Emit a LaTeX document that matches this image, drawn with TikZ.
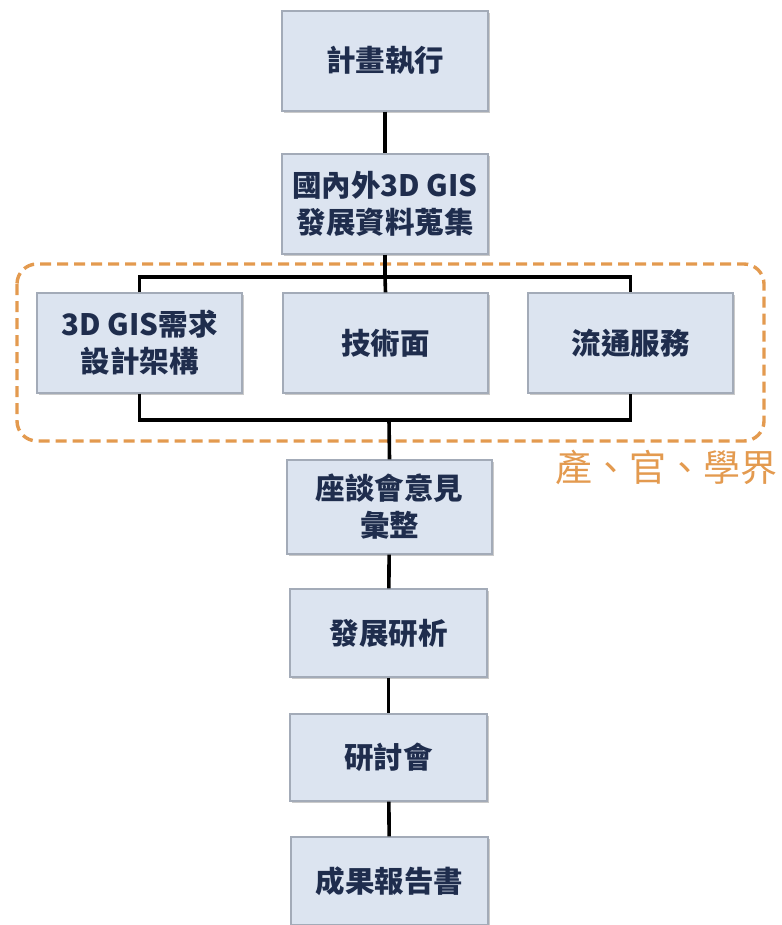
\documentclass[tikz,border=0pt]{standalone}
\usepackage{fontspec}
\newfontfamily\cjk{Noto Sans CJK TC}
\usetikzlibrary{shadows}
\definecolor{boxfill}{HTML}{DCE4F0}
\definecolor{boxline}{HTML}{A3ABB8}
\definecolor{boxtext}{HTML}{1F2D4D}
\definecolor{orng}{HTML}{E39A4F}
\tikzset{
  stepbox/.style={draw=boxline, line width=1.2pt, fill=boxfill, align=center,
    text=boxtext, font=\cjk\bfseries\fontsize{29.5}{37}\selectfont, inner sep=0pt,
    drop shadow={opacity=0.35, shadow xshift=2pt, shadow yshift=-2pt, fill=black!60}},
  conn/.style={line width=3.6pt, draw=black}
}
\begin{document}
\begin{tikzpicture}[x=1pt,y=-1pt]
\useasboundingbox (0,0) rectangle (781,925);
% boxes
\node[stepbox, minimum width=206, minimum height=100] (b1) at (385,61) {計畫執行};
\node[stepbox, minimum width=206, minimum height=100] (b2) at (385,204) {國內外3D GIS\\發展資料蒐集};
\node[stepbox, minimum width=205, minimum height=100] (ba) at (139.5,343) {3D GIS需求\\設計架構};
\node[stepbox, minimum width=205, minimum height=100] (bb) at (385.5,343) {技術面};
\node[stepbox, minimum width=205, minimum height=100] (bc) at (630.5,343) {流通服務};
\node[stepbox, minimum width=205, minimum height=94] (bd) at (389.5,507) {座談會意見\\彙整};
\node[stepbox, minimum width=197, minimum height=88] (be) at (388.5,633) {發展研析};
\node[stepbox, minimum width=197, minimum height=87] (bf) at (388.5,757.5) {研討會};
\node[stepbox, minimum width=197, minimum height=88] (bg) at (389.5,881) {成果報告書};
% group frame
\draw[orng, line width=3.4pt, dash pattern=on 11pt off 6pt, rounded corners=20pt] (17,264) rectangle (764,441);
\node[text=orng, font=\cjk\fontsize{37}{40}\selectfont, inner sep=0pt] (lbl) at (666,467) {產、官、學界};
% connectors
\coordinate (tbus) at (385,277);
\coordinate (bbus) at (389,420);
\draw[conn] (b1) -- (b2);
\draw[conn] (b2) -- (tbus);
\draw[conn] (ba.north) |- (tbus) -| (bc.north);
\draw[conn] (tbus) -- (bb.north);
\draw[conn] (ba.south) |- (bbus) -| (bc.south);
\draw[conn] (bbus) -- (bd.north);
\draw[conn] (bd) -- (be);
\draw[conn] (be) -- (bf);
\draw[conn] (bf) -- (bg);
\end{tikzpicture}
\end{document}
